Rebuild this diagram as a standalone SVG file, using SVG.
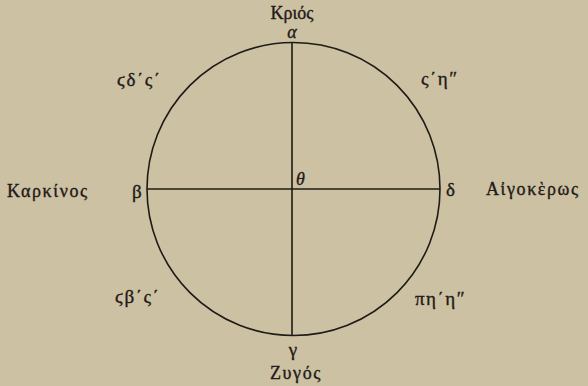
<svg xmlns="http://www.w3.org/2000/svg" width="588" height="386" viewBox="0 0 588 386">
<style>
text{font-family:"Liberation Serif","DejaVu Serif",serif;fill:#1e1a16;stroke:#1e1a16;stroke-width:0.35;font-size:18px}
.w{letter-spacing:1.6px}
.s{font-size:19px}
.c{font-size:19px;letter-spacing:1.5px}
.ln{stroke:#1e1a16;stroke-width:1.6;fill:none}
</style>
<rect width="588" height="386" fill="#cdc1a3"/>
<g id="connectors">
<circle class="ln" cx="293.5" cy="189" r="146.5"/>
<line class="ln" x1="292" y1="42" x2="292" y2="336"/>
<line class="ln" x1="147" y1="189" x2="440" y2="189"/>
</g>
<g id="top"><text x="292" y="19" text-anchor="middle" font-size="15">Κριός</text><text x="292" y="38" text-anchor="middle" font-size="17" font-style="italic">α</text></g>
<g id="left"><text class="w" x="7" y="197">Καρκίνος</text><text class="s" x="132" y="198">β</text></g>
<g id="right"><text class="s" x="446" y="196">δ</text><text class="w" x="486" y="195">Αἰγοκὲρως</text></g>
<g id="bottom"><text class="s" x="293" y="356" text-anchor="middle">γ</text><text class="w" x="296" y="379" text-anchor="middle">Ζυγός</text></g>
<g id="center"><text x="296" y="185" font-size="13" font-style="italic">θ</text></g>
<g id="tl"><text class="c" x="117" y="86">ϛδ΄ς΄</text></g>
<g id="tr"><text class="c" x="421" y="85">ς΄η″</text></g>
<g id="bl"><text class="c" x="115" y="303">ϛβ΄ς΄</text></g>
<g id="br"><text class="c" x="415" y="305">πη΄η″</text></g>
</svg>
